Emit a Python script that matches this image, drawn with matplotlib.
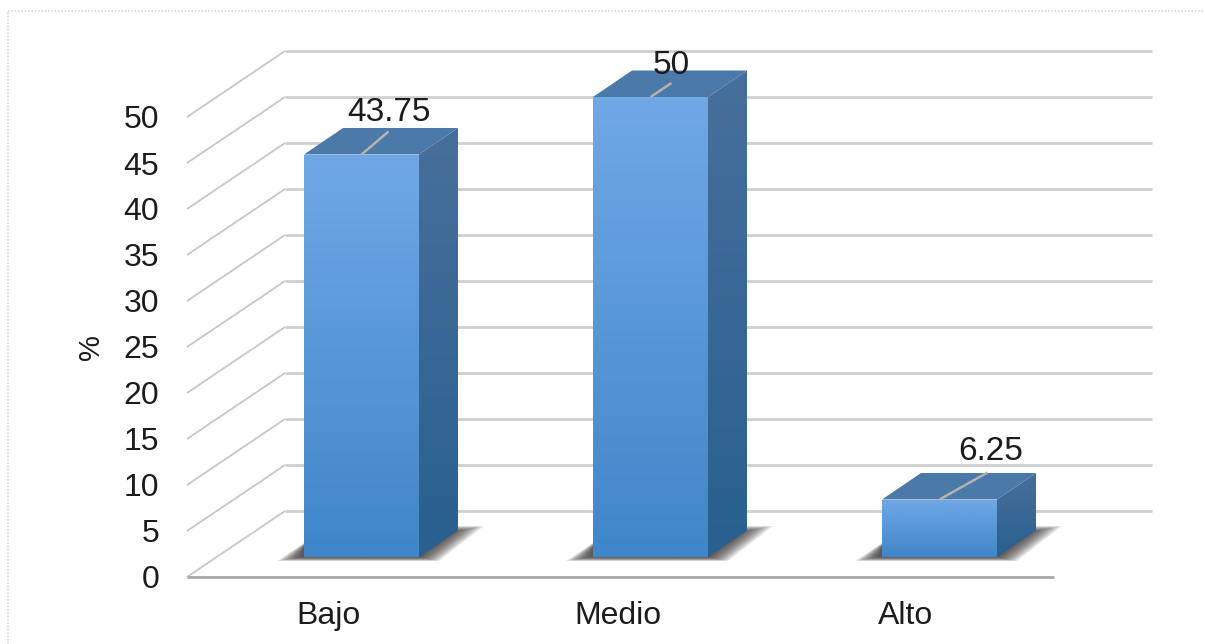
import numpy as np
import matplotlib
matplotlib.use("Agg")
import matplotlib.pyplot as plt
from matplotlib.patches import Polygon
from matplotlib.colors import LinearSegmentedColormap

categories = ["Bajo", "Medio", "Alto"]
values = [43.75, 50, 6.25]
value_labels = ["43.75", "50", "6.25"]
y_ticks = [0, 5, 10, 15, 20, 25, 30, 35, 40, 45, 50]

plt.rcParams['font.family'] = ['Liberation Sans', 'DejaVu Sans']

W, H = 1205, 644
X_PX = 289.0   # pixels per category
Y_PX = 9.2     # pixels per percent
X0, Y0 = 187, 577

fig = plt.figure(figsize=(W / 100, H / 100), dpi=100, facecolor="white")
ax = fig.add_axes([0, 0, 1, 1])
ax.patch.set_alpha(0)

# spines first, moving them resets the ticks
for name in ["top", "right", "left", "bottom"]:
    ax.spines[name].set_visible(False)
ax.spines["left"].set_position(("data", 0))
ax.spines["bottom"].set_position(("data", 0))

# depth of the floor and of the bars, in data units
floor_dx = 98 / X_PX
floor_dy = 66 / Y_PX
bar_dx = 39 / X_PX
bar_dy = 26.5 / Y_PX
bar_w = 115 / X_PX
front_x = 30 / X_PX
front_y = 20 / Y_PX

grid_col = "#cfcdcd"
for t in y_ticks:
    ax.plot([0, floor_dx], [t, t + floor_dy], color="#c8c6c6", lw=1.3, zorder=1, solid_capstyle="butt")
    ax.plot([floor_dx, 3 + floor_dx], [t + floor_dy, t + floor_dy], color=grid_col, lw=2.0, zorder=1,
            solid_capstyle="butt")
ax.plot([0, 3], [0, 0], color="#a9a6a6", lw=2.0, zorder=1, solid_capstyle="butt")


def gradient(xs, ys, top, bottom, z):
    cmap = LinearSegmentedColormap.from_list("g", [top, bottom])
    poly = Polygon(list(zip(xs, ys)), closed=True, transform=ax.transData, fc="none", ec="none")
    ax.add_patch(poly)
    im = ax.imshow(np.linspace(0, 1, 256).reshape(-1, 1), cmap=cmap, aspect="auto", origin="upper",
                   extent=[min(xs), max(xs), min(ys), max(ys)], zorder=z, interpolation="bilinear")
    im.set_clip_path(poly)


for i, v in enumerate(values):
    left = i + 0.5 - bar_w / 2 + front_x
    right = left + bar_w
    base = front_y
    top = base + v

    # soft shadow on the floor, stacked outlines
    for k in range(14):
        s = (13 - k) * 1.5
        shadow = [(left - (27 - s * 1.2) / X_PX, base - (4 - s * 0.2) / Y_PX),
                  (left, base + (14 - s * 0.2) / Y_PX),
                  (right + 39 / X_PX, base + (31 - s * 0.3) / Y_PX),
                  (right + (65 - s * 1.6) / X_PX, base + (31 - s * 0.3) / Y_PX),
                  (right + (20 - s) / X_PX, base - (4 - s * 0.2) / Y_PX)]
        ax.add_patch(Polygon(shadow, closed=True, fc="#352e2e", ec="none", alpha=0.1, zorder=2))

    # side face
    gradient([right, right + bar_dx, right + bar_dx, right],
             [base, base + bar_dy, top + bar_dy, top], "#486f9c", "#28608f", 3)
    # top face
    ax.add_patch(Polygon([(left, top), (right, top), (right + bar_dx, top + bar_dy), (left + bar_dx, top + bar_dy)],
                         closed=True, fc="#4a79aa", ec="none", zorder=3))
    # front face
    gradient([left, right, right, left], [base, base, top, top], "#70a8e5", "#3f86ca", 4)

    # leader line
    cx = left + bar_w / 2
    ax.plot([cx, cx + (27 if i == 0 else 21 if i == 1 else 48) / X_PX],
            [top, top + (23 if i == 0 else 14 if i == 1 else 27) / Y_PX],
            color="#b4b4ae", lw=1.8, zorder=5, solid_capstyle="butt")

# data labels
label_dx = [28, 21, 51]
label_dy = [42, 32, 48]
for i, v in enumerate(values):
    cx = i + 0.5 + front_x
    ax.text(cx + label_dx[i] / X_PX, front_y + v + label_dy[i] / Y_PX, value_labels[i],
            fontsize=24, color="#1c1c1c", ha="center", va="center", zorder=6)

ax.set_xticks([0.491, 1.491, 2.486])
ax.set_xticklabels(categories)
ax.set_yticks(y_ticks)
ax.set_yticklabels([str(t) for t in y_ticks])
ax.tick_params(axis="y", length=0, pad=20, labelsize=23, labelcolor="#1c1c1c")
ax.tick_params(axis="x", length=0, pad=17, labelsize=23, labelcolor="#1c1c1c")
ax.set_ylabel("%", fontsize=21, color="#1c1c1c")
ax.yaxis.set_label_coords(105 / W, (H - 347) / H)

# dotted frame, open at right and bottom
fig.add_artist(plt.Line2D([8 / W, 8 / W], [0, 1 - 11 / H], color="#d8d8d8", lw=1.2, ls=(0, (1, 1))))
fig.add_artist(plt.Line2D([8 / W, 1], [1 - 11 / H, 1 - 11 / H], color="#d8d8d8", lw=1.2, ls=(0, (1, 1))))

ax.set_xlim(-X0 / X_PX, (W - X0) / X_PX)
ax.set_ylim((Y0 - H) / Y_PX, Y0 / Y_PX)
fig.savefig("out.png", dpi=100)
